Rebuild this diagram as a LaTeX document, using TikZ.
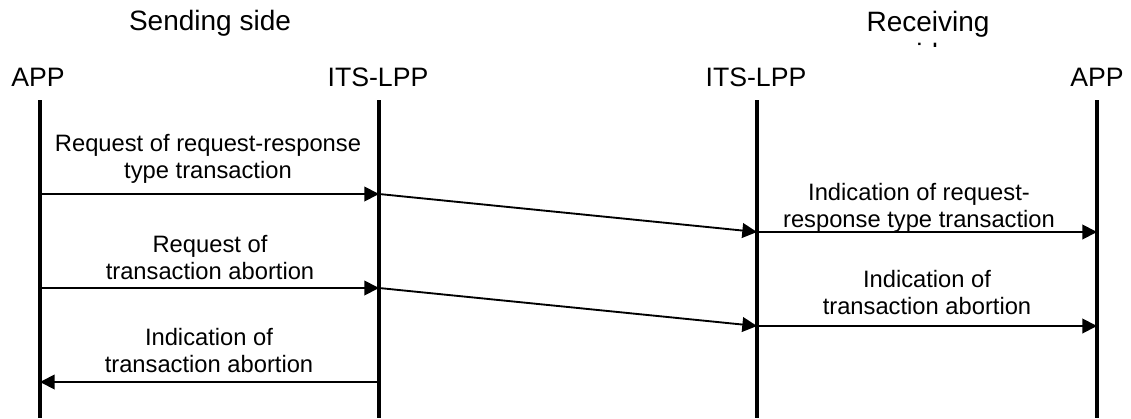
\documentclass[tikz,border=0pt]{standalone}
\usepackage{fontspec}
\setmainfont{Liberation Sans}
\usetikzlibrary{arrows.meta,positioning}
\tikzset{
  party/.style={font=\fontsize{20}{23}\selectfont, inner sep=0pt},
  sidetitle/.style={font=\fontsize{21}{24}\selectfont, align=center, inner sep=0pt, anchor=north},
  msglabel/.style={font=\fontsize{17.8}{20.3}\selectfont, align=center, inner sep=0pt, text depth=0pt},
  lifeline/.style={line width=2.5pt, draw=black},
  msg/.style={-{Triangle[length=11pt, width=11pt]}, line width=1.4pt, draw=black}
}

\begin{document}
\begin{tikzpicture}[x=0.75pt, y=-0.75pt]
  \useasboundingbox (0,0) rectangle (1131,418);

  % sides
  \node[sidetitle] (sending) at (210,10) {Sending side};
  \begin{scope}
    \clip (700,0) rectangle (1131,46);
    \node[sidetitle] (receiving) at (928,11) {Receiving\\side};
  \end{scope}

  % parties
  \node[party] (appL) at (38,77) {APP};
  \node[party] (itsL) at (378,77) {ITS-LPP};
  \node[party] (itsR) at (756,77) {ITS-LPP};
  \node[party] (appR) at (1097,77) {APP};

  \coordinate (appLend) at (40,418);
  \coordinate (itsLend) at (379,418);
  \coordinate (itsRend) at (757,418);
  \coordinate (appRend) at (1097,418);

  \draw[lifeline] (appLend |- 0,100) -- (appLend);
  \draw[lifeline] (itsLend |- 0,100) -- (itsLend);
  \draw[lifeline] (itsRend |- 0,100) -- (itsRend);
  \draw[lifeline] (appRend |- 0,100) -- (appRend);

  % request-response transaction
  \coordinate (req1) at (40,194);
  \coordinate (fwd1) at (379,194);
  \coordinate (ind1) at (757,232);
  \coordinate (app1) at (1097,232);
  \draw[msg] (req1) -- (fwd1);
  \draw[msg] (fwd1) -- (ind1);
  \draw[msg] (ind1) -- (app1);
  \node[msglabel] (reqlbl) at (208,156) {Request of request-response\\type transaction};
  \node[msglabel] (indlbl) at (919,205) {Indication of request-\\response type transaction};

  % abortion
  \coordinate (req2) at (40,288);
  \coordinate (fwd2) at (379,288);
  \coordinate (ind2) at (757,326);
  \coordinate (app2) at (1097,326);
  \draw[msg] (req2) -- (fwd2);
  \draw[msg] (fwd2) -- (ind2);
  \draw[msg] (ind2) -- (app2);
  \node[msglabel] (abortreq) at (210,257) {Request of\\transaction abortion};
  \node[msglabel] (abortind) at (927,292) {Indication of\\transaction abortion};

  % abortion back to sender
  \coordinate (back3) at (379,382);
  \coordinate (app3) at (40,382);
  \draw[msg] (back3) -- (app3);
  \node[msglabel] (abortback) at (209,350) {Indication of\\transaction abortion};
\end{tikzpicture}
\end{document}
